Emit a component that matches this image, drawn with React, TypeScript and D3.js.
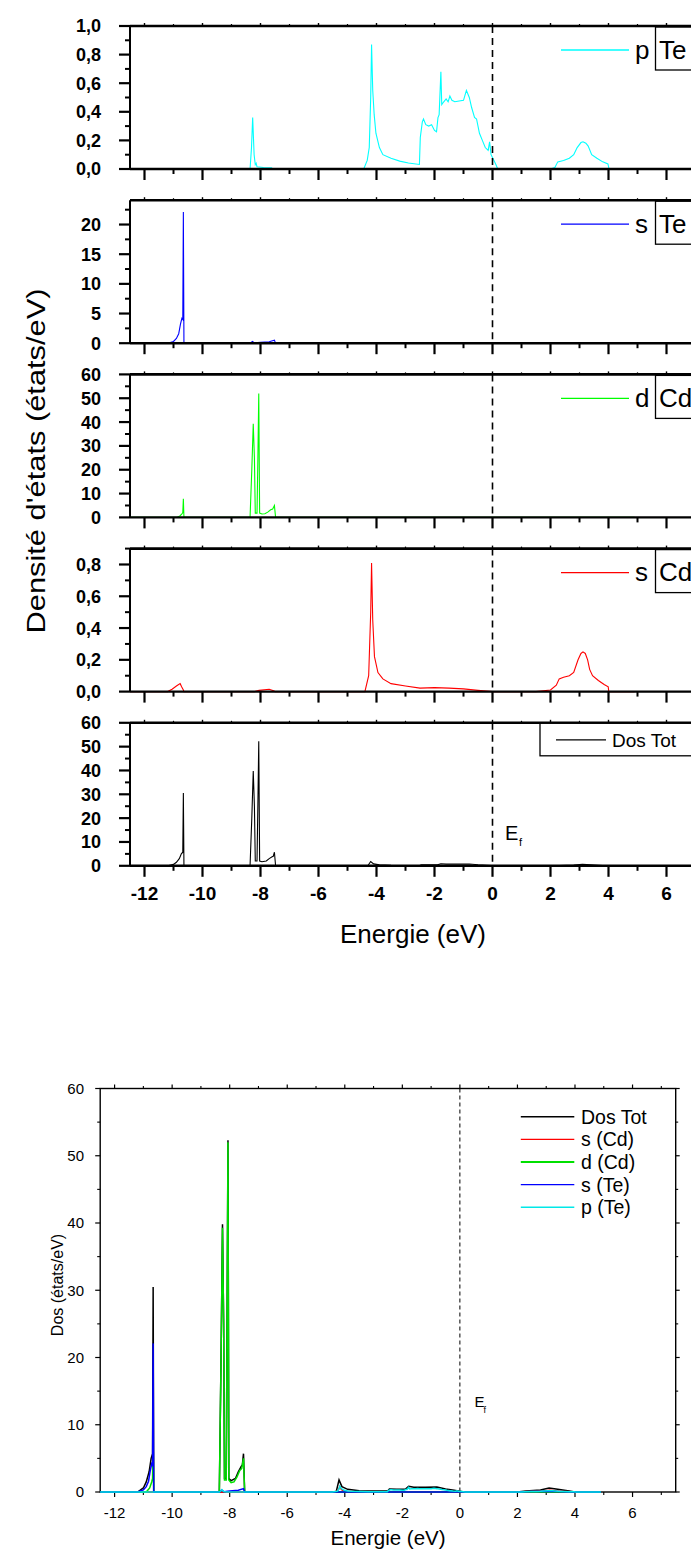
import React from "react"
import * as d3 from "d3"

type Pt = [number, number]

// energy (eV), DOS (états/eV)
const pTe: Pt[] = [
  [-12.5, 0], [-8.36, 0], [-8.31, 0.15], [-8.27, 0.36], [-8.22, 0.1], [-8.18, 0.03], [-8.15, 0.04],
  [-8.12, 0.015], [-7.9, 0.01], [-7.62, 0.008], [-7.58, 0],
  [-4.44, 0], [-4.32, 0.06], [-4.25, 0.15], [-4.2, 0.5], [-4.17, 0.87], [-4.13, 0.55], [-4.08, 0.38],
  [-4.02, 0.25], [-3.9, 0.15], [-3.78, 0.1], [-3.5, 0.075], [-3.2, 0.055], [-2.9, 0.042], [-2.52, 0.032],
  [-2.49, 0.22], [-2.42, 0.33], [-2.38, 0.35], [-2.3, 0.31], [-2.2, 0.3], [-2.1, 0.31], [-2.0, 0.27],
  [-1.93, 0.26], [-1.88, 0.36], [-1.84, 0.38], [-1.78, 0.68], [-1.75, 0.45], [-1.68, 0.47], [-1.6, 0.49],
  [-1.53, 0.47], [-1.47, 0.51], [-1.4, 0.48], [-1.3, 0.47], [-1.15, 0.475], [-1.0, 0.48], [-0.9, 0.55],
  [-0.8, 0.5], [-0.72, 0.43], [-0.62, 0.36], [-0.55, 0.35], [-0.45, 0.25], [-0.35, 0.2], [-0.25, 0.15],
  [-0.15, 0.13], [-0.1, 0.19], [-0.05, 0.1], [0.05, 0.06], [0.12, 0.03], [0.18, 0],
  [2.0, 0], [2.15, 0.01], [2.25, 0.05], [2.45, 0.06], [2.65, 0.075], [2.8, 0.1], [2.92, 0.15], [3.05, 0.185],
  [3.12, 0.19], [3.22, 0.18], [3.3, 0.16], [3.42, 0.1], [3.6, 0.075], [3.8, 0.05], [3.98, 0.035], [4.02, 0],
  [4.9, 0],
]

const sTe: Pt[] = [
  [-12.5, 0], [-11.2, 0], [-11.0, 0.3], [-10.9, 0.8], [-10.82, 1.6], [-10.76, 3.2], [-10.71, 4.2],
  [-10.68, 4.0], [-10.66, 22.1], [-10.64, 0], [-8.35, 0], [-8.28, 0.3], [-8.2, 0.05], [-8.0, 0.15],
  [-7.7, 0.25], [-7.52, 0.5], [-7.48, 0], [2.0, 0], [2.5, 0.08], [3.1, 0.12], [3.6, 0.05], [4.0, 0],
  [4.9, 0],
]

const dCd: Pt[] = [
  [-12.5, 0], [-10.9, 0], [-10.78, 0.6], [-10.71, 1.5], [-10.68, 2.0], [-10.66, 7.8], [-10.64, 0],
  [-8.36, 0], [-8.3, 20], [-8.25, 39.3], [-8.21, 25], [-8.18, 1.8], [-8.12, 1.8], [-8.09, 25],
  [-8.06, 52], [-8.03, 1.8], [-7.95, 1.4], [-7.85, 1.5], [-7.75, 2.2], [-7.65, 3.2], [-7.58, 3.5],
  [-7.52, 5], [-7.48, 0], [4.9, 0],
]

const sCd: Pt[] = [
  [-12.5, 0], [-11.2, 0], [-11.05, 0.015], [-10.9, 0.035], [-10.77, 0.05], [-10.72, 0.03], [-10.66, 0.01],
  [-10.64, 0], [-8.2, 0], [-8.05, 0.008], [-7.7, 0.015], [-7.55, 0.005], [-7.5, 0],
  [-4.4, 0], [-4.27, 0.1], [-4.2, 0.5], [-4.17, 0.81], [-4.13, 0.45], [-4.07, 0.22], [-3.95, 0.12],
  [-3.78, 0.08], [-3.5, 0.05], [-3.0, 0.035], [-2.5, 0.022], [-2.0, 0.025], [-1.5, 0.022], [-1.0, 0.017],
  [-0.5, 0.008], [0, 0], [1.5, 0], [2.0, 0.01], [2.2, 0.04], [2.3, 0.08], [2.45, 0.09], [2.65, 0.1],
  [2.8, 0.12], [2.95, 0.2], [3.05, 0.24], [3.12, 0.25], [3.2, 0.24], [3.28, 0.2], [3.35, 0.14],
  [3.45, 0.1], [3.65, 0.07], [3.85, 0.045], [3.99, 0.03], [4.01, 0], [4.9, 0],
]

const dosTot: Pt[] = [
  [-12.5, 0], [-11.2, 0], [-11.0, 0.6], [-10.9, 1.5], [-10.8, 3], [-10.73, 5], [-10.68, 5.7],
  [-10.66, 30.5], [-10.64, 0], [-8.36, 0], [-8.3, 20], [-8.25, 39.8], [-8.21, 25], [-8.18, 2],
  [-8.12, 2], [-8.09, 26], [-8.06, 52.3], [-8.03, 2], [-7.95, 1.7], [-7.8, 2], [-7.7, 3], [-7.6, 3.8],
  [-7.56, 4], [-7.52, 5.7], [-7.48, 0], [-4.3, 0], [-4.2, 1.8], [-4.1, 0.8], [-3.9, 0.4], [-3.5, 0.2],
  [-3.0, 0.15], [-2.5, 0.2], [-2.45, 0.45], [-2.2, 0.4], [-1.9, 0.4], [-1.78, 0.85], [-1.6, 0.7],
  [-1.2, 0.7], [-0.8, 0.75], [-0.5, 0.45], [-0.2, 0.25], [0.1, 0.05], [0.3, 0], [2.0, 0], [2.3, 0.15],
  [2.8, 0.3], [3.1, 0.6], [3.4, 0.4], [3.8, 0.15], [4.0, 0], [4.9, 0],
]

// stacked panels, top to bottom
const panelSeries = [pTe, sTe, dCd, sCd, dosTot]
const panelColors = ["#00FFFF", "#0000FF", "#00FF00", "#FF0000", "#000000"]
const panelMax = [1.0, 24.1, 60, 0.9, 60]
const panelMajorTicks = [
  [0, 0.2, 0.4, 0.6, 0.8, 1.0],
  [0, 5, 10, 15, 20],
  [0, 10, 20, 30, 40, 50, 60],
  [0, 0.2, 0.4, 0.6, 0.8],
  [0, 10, 20, 30, 40, 50, 60],
]
const panelMinorTicks = [
  [0.1, 0.3, 0.5, 0.7, 0.9],
  [2.5, 7.5, 12.5, 17.5, 22.5],
  [5, 15, 25, 35, 45, 55],
  [0.1, 0.3, 0.5, 0.7, 0.9],
  [5, 15, 25, 35, 45, 55],
]
const panelDecimal = [true, false, false, true, false]
const legendOrbital = ["p", "s", "d", "s"]
const legendAtom = ["Te", "Te", "Cd", "Cd"]

const energyMajor = [-12, -10, -8, -6, -4, -2, 0, 2, 4, 6]
const energyMinor = [-11, -9, -7, -5, -3, -1, 1, 3, 5, 7]

// overlay chart
const overlaySeries = [dosTot, sCd, dCd, sTe, pTe]
const overlayLabels = ["Dos Tot", "s (Cd)", "d (Cd)", "s (Te)", "p (Te)"]
const overlayColors = ["#000000", "#FF0000", "#00E000", "#0000FF", "#00E8E8"]
const dosMajor = [0, 10, 20, 30, 40, 50, 60]
const dosMinor = [5, 15, 25, 35, 45, 55]

const FONT = "'Liberation Sans', Arial, Helvetica, sans-serif"

const fmtDec = (v: number) => d3.format(".1f")(v).replace(".", ",")

const StackedPanel = ({ i, x }: { i: number; x: d3.ScaleLinear<number, number> }) => {
  const top = 26 + i * 174.2
  const h = 143
  const base = top + h
  const y = d3.scaleLinear().domain([0, panelMax[i]]).range([base, top])
  const line = d3
    .line<Pt>()
    .x((d) => x(d[0]))
    .y((d) => y(d[1]))
  const [x0, x1] = x.range()
  const last = i === 4
  return (
    <g>
      <path d={line(panelSeries[i]) ?? ""} fill="none" stroke={panelColors[i]} strokeWidth={1.1} />
      <line x1={x(0)} x2={x(0)} y1={top} y2={base} stroke="#000" strokeWidth={1.6} strokeDasharray="7 5" />
      {/* frame */}
      <line x1={x0} x2={x1} y1={top} y2={top} stroke="#000" strokeWidth={2.6} />
      <line x1={x0} x2={x1} y1={base} y2={base} stroke="#000" strokeWidth={2.4} />
      <line x1={x0} x2={x0} y1={top} y2={base} stroke="#000" strokeWidth={2} />
      {panelMajorTicks[i].map((v) => (
        <g key={"ma" + v}>
          <line x1={x0 - 11} x2={x0} y1={y(v)} y2={y(v)} stroke="#000" strokeWidth={2.2} />
          <text x={101} y={y(v)} dy="0.36em" textAnchor="end" fontSize={18} fontWeight="bold">
            {panelDecimal[i] ? fmtDec(v) : d3.format("d")(v)}
          </text>
        </g>
      ))}
      {panelMinorTicks[i].map((v) => (
        <line key={"mi" + v} x1={x0 - 5} x2={x0} y1={y(v)} y2={y(v)} stroke="#000" strokeWidth={2} />
      ))}
      {energyMajor.map((e) => (
        <g key={"ex" + e}>
          <line x1={x(e)} x2={x(e)} y1={base} y2={base + 11} stroke="#000" strokeWidth={2.2} />
          <line x1={x(e)} x2={x(e)} y1={top} y2={top - 3} stroke="#000" strokeWidth={1.4} />
          {last && (
            <text x={x(e)} y={base + 34} textAnchor="middle" fontSize={19} fontWeight="bold">
              {e}
            </text>
          )}
        </g>
      ))}
      {energyMinor.map((e) => (
        <g key={"en" + e}>
          <line x1={x(e)} x2={x(e)} y1={base} y2={base + 5} stroke="#000" strokeWidth={2} />
          <line x1={x(e)} x2={x(e)} y1={top} y2={top - 2} stroke="#000" strokeWidth={1.2} />
        </g>
      ))}
      {!last ? (
        <g>
          <line x1={561} x2={629} y1={top + 24} y2={top + 24} stroke={panelColors[i]} strokeWidth={1.3} />
          <text x={635} y={top + 32.5} fontSize={26}>
            {legendOrbital[i]}
          </text>
          <rect x={655.5} y={top + 1} width={80} height={43} fill="none" stroke="#000" strokeWidth={1.3} />
          <text x={659} y={top + 32.5} fontSize={26}>
            {legendAtom[i]}
          </text>
        </g>
      ) : (
        <g>
          <rect x={540} y={top + 0.5} width={200} height={32.5} fill="#fff" stroke="#000" strokeWidth={1.3} />
          <line x1={556} x2={606} y1={top + 17} y2={top + 17} stroke="#000" strokeWidth={1.2} />
          <text x={612} y={top + 24} fontSize={19}>
            Dos Tot
          </text>
          <text x={505} y={top + 117} fontSize={20}>
            E
          </text>
          <text x={519} y={top + 123.5} fontSize={11}>
            f
          </text>
        </g>
      )}
    </g>
  )
}

const App = () => {
  const xTop = d3.scaleLinear().domain([-12.5, 7.5]).range([130, 710])

  const xB = d3.scaleLinear().domain([-12.5, 7.5]).range([100.2, 675.7])
  const yB = d3.scaleLinear().domain([0, 60]).range([1492, 1088.5])
  const lineB = d3
    .line<Pt>()
    .x((d) => xB(d[0]))
    .y((d) => yB(d[1]))

  return (
    <svg
      width={691}
      height={1551}
      style={{ position: "absolute", left: 0, top: 0, background: "#fff" }}
      fontFamily={FONT}
    >
      <rect width={691} height={1551} fill="#fff" />
      {panelSeries.map((_, i) => (
        <StackedPanel key={i} i={i} x={xTop} />
      ))}
      <text
        transform="translate(45,461) rotate(-90)"
        textAnchor="middle"
        fontSize={26}
        textLength={345}
        lengthAdjust="spacingAndGlyphs"
      >
        Densité d'états (états/eV)
      </text>
      <text x={413} y={943} textAnchor="middle" fontSize={26}>
        Energie (eV)
      </text>

      {/* overlay chart */}
      <g>
        <line x1={xB(0)} x2={xB(0)} y1={yB(60)} y2={yB(0)} stroke="#000" strokeWidth={1} strokeDasharray="4 3" />
        <rect
          x={xB(-12.5)}
          y={yB(60)}
          width={xB(7.5) - xB(-12.5)}
          height={yB(0) - yB(60)}
          fill="none"
          stroke="#000"
          strokeWidth={1.4}
        />
        {energyMajor.map((e) => (
          <g key={"bx" + e}>
            <line x1={xB(e)} x2={xB(e)} y1={yB(0)} y2={yB(0) + 5} stroke="#000" strokeWidth={1.2} />
            <line x1={xB(e)} x2={xB(e)} y1={yB(60)} y2={yB(60) - 4} stroke="#000" strokeWidth={1.2} />
            <text x={xB(e)} y={yB(0) + 26} textAnchor="middle" fontSize={15}>
              {e}
            </text>
          </g>
        ))}
        {energyMinor.map((e) => (
          <g key={"bn" + e}>
            <line x1={xB(e)} x2={xB(e)} y1={yB(0)} y2={yB(0) + 3} stroke="#000" strokeWidth={1.1} />
            <line x1={xB(e)} x2={xB(e)} y1={yB(60)} y2={yB(60) - 2.5} stroke="#000" strokeWidth={1.1} />
          </g>
        ))}
        {dosMajor.map((v) => (
          <g key={"by" + v}>
            <line x1={xB(-12.5) - 5} x2={xB(-12.5)} y1={yB(v)} y2={yB(v)} stroke="#000" strokeWidth={1.2} />
            <line x1={xB(7.5)} x2={xB(7.5) + 4} y1={yB(v)} y2={yB(v)} stroke="#000" strokeWidth={1.2} />
            <text x={84} y={yB(v)} dy="0.36em" textAnchor="end" fontSize={15}>
              {v}
            </text>
          </g>
        ))}
        {dosMinor.map((v) => (
          <g key={"bm" + v}>
            <line x1={xB(-12.5) - 3} x2={xB(-12.5)} y1={yB(v)} y2={yB(v)} stroke="#000" strokeWidth={1.1} />
            <line x1={xB(7.5)} x2={xB(7.5) + 2.5} y1={yB(v)} y2={yB(v)} stroke="#000" strokeWidth={1.1} />
          </g>
        ))}
        {overlaySeries.map((s, k) => (
          <path key={k} d={lineB(s) ?? ""} fill="none" stroke={overlayColors[k]} strokeWidth={1.5} />
        ))}
        {overlayLabels.map((lab, k) => {
          const ly = 1116.7 + k * 22.65
          return (
            <g key={lab}>
              <line x1={520.8} x2={574.3} y1={ly} y2={ly} stroke={overlayColors[k]} strokeWidth={k === 2 ? 2.2 : 1.4} />
              <text x={581} y={ly} dy="0.36em" fontSize={19.5}>
                {lab}
              </text>
            </g>
          )
        })}
        <text x={474.5} y={1407} fontSize={15}>
          E
        </text>
        <text x={483.5} y={1413} fontSize={9}>
          f
        </text>
        <text x={388} y={1545} textAnchor="middle" fontSize={20.5}>
          Energie (eV)
        </text>
        <text transform="translate(63,1285) rotate(-90)" textAnchor="middle" fontSize={16}>
          Dos (états/eV)
        </text>
      </g>
    </svg>
  )
}

export default App
